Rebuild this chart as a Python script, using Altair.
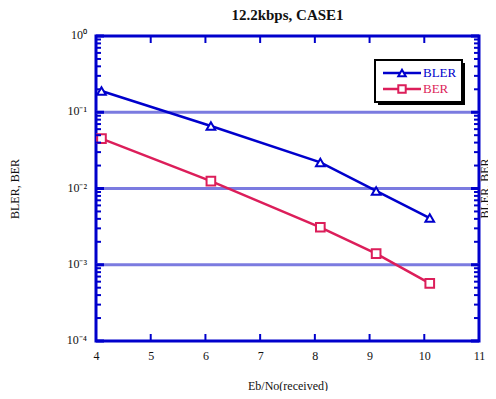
import altair as alt
import pandas as pd

# ---- data ----
eb_no = [4.1, 6.1, 8.1, 9.12, 10.1]
bler = [0.19, 0.066, 0.022, 0.0093, 0.0041]
ber = [0.045, 0.0125, 0.0031, 0.0014, 0.00057]
series = ["BLER", "BER"]
colors = ["#0000CC", "#DC1E5A"]
shapes = ["triangle-up", "square"]

x_ticks = [5, 6, 7, 8, 9, 10]
x_label_vals = [4, 5, 6, 7, 8, 9, 10, 11]
y_decades = [1, 0.1, 0.01, 0.001, 0.0001]
y_labels = ["10⁰", "10⁻¹", "10⁻²", "10⁻³", "10⁻⁴"]
grid_vals = [0.1, 0.01, 0.001]
minor_vals = [m * 10.0 ** e for e in range(-4, 0) for m in range(2, 10)]

TITLE = "12.2kbps, CASE1"
XTITLE = "Eb/No(received)"
YTITLE = "BLER, BER"

W, H = 383, 305
BLUE = "#0000CC"
GRID = "#7B7BE0"
FONT = "Liberation Serif"
TXT = "#111111"

xs = alt.Scale(domain=[4, 11], nice=False, zero=False)
ys = alt.Scale(type="log", domain=[1e-4, 1], nice=False)

df = pd.DataFrame({
    "x": eb_no * 2,
    "y": bler + ber,
    "s": [series[0]] * len(eb_no) + [series[1]] * len(eb_no),
})

color_enc = alt.Color("s:N", scale=alt.Scale(domain=series, range=colors), legend=None)
shape_enc = alt.Shape("s:N", scale=alt.Scale(domain=series, range=shapes), legend=None)

base_x = alt.X("x:Q", scale=xs, axis=alt.Axis(
    values=x_label_vals, format="d", labelFlush=False, ticks=False, tickSize=0,
    domain=False, grid=False, labelPadding=9, labelFont=FONT, labelFontSize=12,
    labelColor=TXT, title=XTITLE, titleFont=FONT, titleFontSize=12,
    titleFontWeight="normal", titleColor=TXT, titleX=W / 2, titleY=44,
    titleBaseline="middle", titleAlign="center"))
base_y = alt.Y("y:Q", scale=ys, axis=alt.Axis(
    labels=False, ticks=False, domain=False, grid=False, title=YTITLE,
    titleFont=FONT, titleFontSize=12, titleFontWeight="normal", titleColor=TXT,
    titleX=-82, titleY=H / 2, titleAngle=270, titleAlign="center",
    titleBaseline="middle"))

# grid lines at decades
grid = alt.Chart(pd.DataFrame({"y": grid_vals})).mark_rule(
    color=GRID, strokeWidth=3).encode(
    y=alt.Y("y:Q", scale=ys), x=alt.value(0), x2=alt.value(W))

# minor ticks (left and right, inward)
minor_df = pd.DataFrame({"y": minor_vals})
minor_l = alt.Chart(minor_df).mark_rule(color=BLUE, strokeWidth=2).encode(
    y=alt.Y("y:Q", scale=ys), x=alt.value(0), x2=alt.value(5))
minor_r = alt.Chart(minor_df).mark_rule(color=BLUE, strokeWidth=2).encode(
    y=alt.Y("y:Q", scale=ys), x=alt.value(W - 5), x2=alt.value(W))
major_df = pd.DataFrame({"y": y_decades})
major_l = alt.Chart(major_df).mark_rule(color=BLUE, strokeWidth=3).encode(
    y=alt.Y("y:Q", scale=ys), x=alt.value(0), x2=alt.value(8))
major_r = alt.Chart(major_df).mark_rule(color=BLUE, strokeWidth=3).encode(
    y=alt.Y("y:Q", scale=ys), x=alt.value(W - 8), x2=alt.value(W))

xt_df = pd.DataFrame({"x": x_ticks})
xt_b = alt.Chart(xt_df).mark_rule(color=BLUE, strokeWidth=2).encode(
    x=alt.X("x:Q", scale=xs), y=alt.value(H), y2=alt.value(H - 7))
xt_t = alt.Chart(xt_df).mark_rule(color=BLUE, strokeWidth=2).encode(
    x=alt.X("x:Q", scale=xs), y=alt.value(0), y2=alt.value(7))

# y tick labels with superscripts
ylab = alt.Chart(pd.DataFrame({"y": y_decades, "t": y_labels})).mark_text(
    align="right", baseline="middle", font=FONT, fontSize=12, color=TXT, dx=-9, dy=-1).encode(
    y=alt.Y("y:Q", scale=ys), x=alt.value(0), text="t:N")

# data lines and markers
lines = alt.Chart(df).mark_line(strokeWidth=2.5).encode(
    x=base_x, y=base_y, color=color_enc)
points = alt.Chart(df).mark_point(size=75, strokeWidth=2, fill="white",
                                  fillOpacity=1, filled=False).encode(
    x=alt.X("x:Q", scale=xs), y=alt.Y("y:Q", scale=ys),
    stroke=alt.Stroke("s:N", scale=alt.Scale(domain=series, range=colors), legend=None),
    shape=shape_enc)

# right-hand (clipped) duplicate axis title
rtitle = alt.Chart(pd.DataFrame({"t": [YTITLE]})).mark_text(
    angle=270, align="center", baseline="middle", font=FONT, fontSize=12,
    color=TXT).encode(x=alt.value(W + 6), y=alt.value(H / 2), text="t:N")

# manual legend
one = pd.DataFrame({"a": [0]})
lx0, lx1, ly0, ly1 = 279, 366, 24, 66
shadow = alt.Chart(one).mark_rect(color="black").encode(
    x=alt.value(lx0 + 3), x2=alt.value(lx1 + 3), y=alt.value(ly0 + 3), y2=alt.value(ly1 + 3))
box = alt.Chart(one).mark_rect(fill="white", stroke="black", strokeWidth=2).encode(
    x=alt.value(lx0), x2=alt.value(lx1), y=alt.value(ly0), y2=alt.value(ly1))
legend_layers = [shadow, box]
for i, (name, col, shp) in enumerate(zip(series, colors, shapes)):
    yy = 37 + 16 * i
    legend_layers.append(alt.Chart(one).mark_rule(color=col, strokeWidth=2.5).encode(
        x=alt.value(287), x2=alt.value(325), y=alt.value(yy)))
    legend_layers.append(alt.Chart(one).mark_point(
        shape=shp, size=55, strokeWidth=2, stroke=col, fill="white", fillOpacity=1,
        filled=False).encode(x=alt.value(306), y=alt.value(yy)))
    legend_layers.append(alt.Chart(pd.DataFrame({"t": [name]})).mark_text(
        align="left", baseline="middle", font=FONT, fontSize=13, color=col).encode(
        x=alt.value(327), y=alt.value(yy), text="t:N"))

chart = alt.layer(
    grid, lines, points, minor_l, minor_r, major_l, major_r, xt_b, xt_t, ylab,
    rtitle, *legend_layers
).properties(
    width=W, height=H,
    title=alt.TitleParams(TITLE, font=FONT, fontSize=15, fontWeight="bold",
                          color=TXT, anchor="middle", offset=6),
    autosize=alt.AutoSizeParams(type="none"),
    padding={"left": 88, "top": 28, "right": 9, "bottom": 50},
).configure_view(stroke=BLUE, strokeWidth=3)

chart.save("out.html", embed_options={"renderer": "svg", "actions": False})
